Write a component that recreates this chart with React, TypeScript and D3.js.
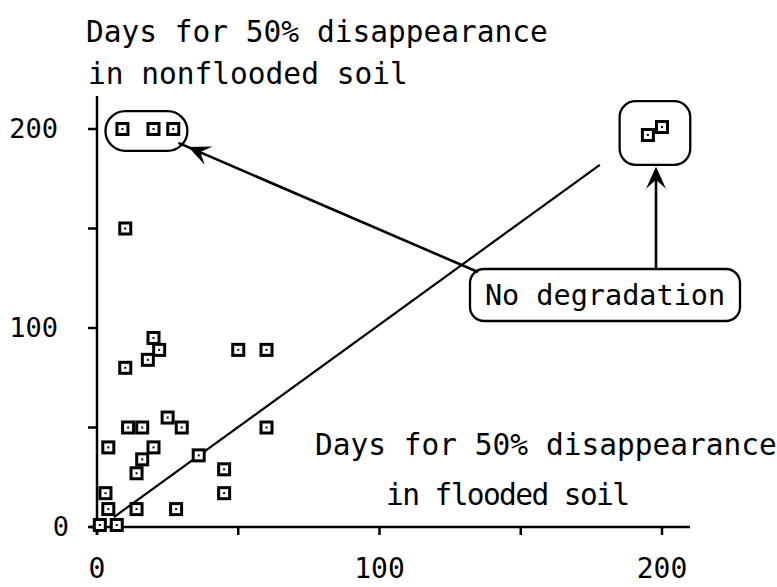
import React from "react";
import * as d3 from "d3";

// Days for 50% disappearance: flooded soil (x) vs nonflooded soil (y)
const floodedDays = [9, 20, 27, 195, 200, 10, 20, 22, 18, 50, 60, 10, 25, 11, 16, 30, 60, 4, 20, 16, 36, 14, 45, 3, 45, 4, 14, 28, 1, 7];
const nonfloodedDays = [200, 200, 200, 197, 201, 150, 95, 89, 84, 89, 89, 80, 55, 50, 50, 50, 50, 40, 40, 34, 36, 27, 29, 17, 17, 9, 9, 9, 1, 1];

const regressionX = [6, 178];
const regressionY = [5, 182];

const xTicks = [0, 50, 100, 150, 200];
const xTickLabels = [0, 100, 200];
const yTicks = [0, 50, 100, 150, 200];
const yTickLabels = [0, 100, 200];

const yTitle = ["Days for 50% disappearance", "in nonflooded soil"];
const xTitle = ["Days for 50% disappearance", "in flooded soil"];
const noteText = "No degradation";

const W = 777;
const H = 587;
const FONT = "'DejaVu Sans Mono', monospace";

function arrowHead(tip: [number, number], from: [number, number]) {
  const dx = tip[0] - from[0];
  const dy = tip[1] - from[1];
  const len = Math.hypot(dx, dy);
  const ux = dx / len, uy = dy / len;
  const px = -uy, py = ux;
  const L = 22, hw = 10, notch = 13;
  const b1: [number, number] = [tip[0] - ux * L + px * hw, tip[1] - uy * L + py * hw];
  const b2: [number, number] = [tip[0] - ux * L - px * hw, tip[1] - uy * L - py * hw];
  const n: [number, number] = [tip[0] - ux * notch, tip[1] - uy * notch];
  return `M${tip[0]},${tip[1]} L${b1[0]},${b1[1]} L${n[0]},${n[1]} L${b2[0]},${b2[1]} Z`;
}

export default function App() {
  const x = d3.scaleLinear().domain([0, 200]).range([97, 662]);
  const y = d3.scaleLinear().domain([0, 200]).range([527, 129]);

  const pts = floodedDays.map((d, i) => [d, nonfloodedDays[i]] as [number, number]);
  const line = d3.line<number>().x((d) => x(regressionX[d])).y((d) => y(regressionY[d]))([0, 1]) || "";

  // annotation boxes derived from the scales
  const pillX0 = x(3), pillX1 = x(32), pillY0 = y(209), pillY1 = y(189);
  const boxX0 = x(185), boxX1 = x(210), boxY0 = y(214), boxY1 = y(182);
  const noteX0 = 470, noteX1 = 740, noteY0 = 269, noteY1 = 321;

  const diagFrom: [number, number] = [noteX0 + 8, noteY0 + 3];
  const diagTip: [number, number] = [pillX1 + 1, pillY1 - 4];
  const upFrom: [number, number] = [656, noteY0];
  const upTip: [number, number] = [656, boxY1 + 2];

  const sq = 11;

  return (
    <svg width={W} height={H} style={{ position: "absolute", left: 0, top: 0, background: "#fff" }}>
      <rect x={0} y={0} width={W} height={H} fill="#fff" />
      <g fontFamily={FONT} fill="#000">
        <text x={86} y={42} fontSize={29.5}>{yTitle[0]}</text>
        <text x={88} y={84} fontSize={29.5}>{yTitle[1]}</text>
        <text x={315} y={455} fontSize={29.5}>{xTitle[0]}</text>
        <text x={386} y={505} fontSize={29.5} textLength={244} lengthAdjust="spacing">{xTitle[1]}</text>
      </g>

      {/* axes */}
      <g stroke="#000" strokeWidth={2.5} fill="none">
        <line x1={x(0)} y1={96} x2={x(0)} y2={535} />
        <line x1={90} y1={y(0)} x2={690} y2={y(0)} />
        {yTicks.map((t) => (
          <line key={"yt" + t} x1={x(0) - 9} y1={y(t)} x2={x(0)} y2={y(t)} />
        ))}
        {xTicks.map((t) => (
          <line key={"xt" + t} x1={x(t)} y1={y(0)} x2={x(t)} y2={y(0) + 8} />
        ))}
      </g>
      <g fontFamily={FONT} fill="#000">
        {yTickLabels.map((t) => (
          <text key={"yl" + t} x={t === 0 ? 69 : 58} y={y(t) + 9} fontSize={27} textAnchor="end">{t}</text>
        ))}
        {xTickLabels.map((t) => (
          <text key={"xl" + t} x={x(t)} y={578} fontSize={28} textAnchor="middle">{t}</text>
        ))}
      </g>

      {/* regression line */}
      <path d={line} stroke="#000" strokeWidth={2.2} fill="none" />

      {/* points */}
      <g>
        {pts.map(([a, b], i) => (
          <g key={i}>
            <rect x={x(a) - sq / 2} y={y(b) - sq / 2} width={sq} height={sq} fill="#fff" stroke="#000" strokeWidth={3} />
            <rect x={x(a) - 1} y={y(b) - 1} width={2} height={2} fill="#000" />
          </g>
        ))}
      </g>

      {/* annotations */}
      <g stroke="#000" strokeWidth={2.3} fill="none">
        <rect x={pillX0} y={pillY0} width={pillX1 - pillX0} height={pillY1 - pillY0} rx={(pillY1 - pillY0) / 2} />
        <rect x={boxX0} y={boxY0} width={boxX1 - boxX0} height={boxY1 - boxY0} rx={16} />
        <rect x={noteX0} y={noteY0} width={noteX1 - noteX0} height={noteY1 - noteY0} rx={14} />
      </g>
      <g stroke="#000" strokeWidth={2.6} fill="none">
        <line x1={diagFrom[0]} y1={diagFrom[1]} x2={diagTip[0] - 10} y2={diagTip[1] - 4} />
        <line x1={upFrom[0]} y1={upFrom[1]} x2={upTip[0]} y2={upTip[1] + 10} />
      </g>
      <path d={arrowHead(diagTip, diagFrom)} fill="#000" />
      <path d={arrowHead(upTip, upFrom)} fill="#000" />
      <text x={(noteX0 + noteX1) / 2} y={305} fontFamily={FONT} fontSize={28.5} textAnchor="middle" fill="#000">{noteText}</text>
    </svg>
  );
}
